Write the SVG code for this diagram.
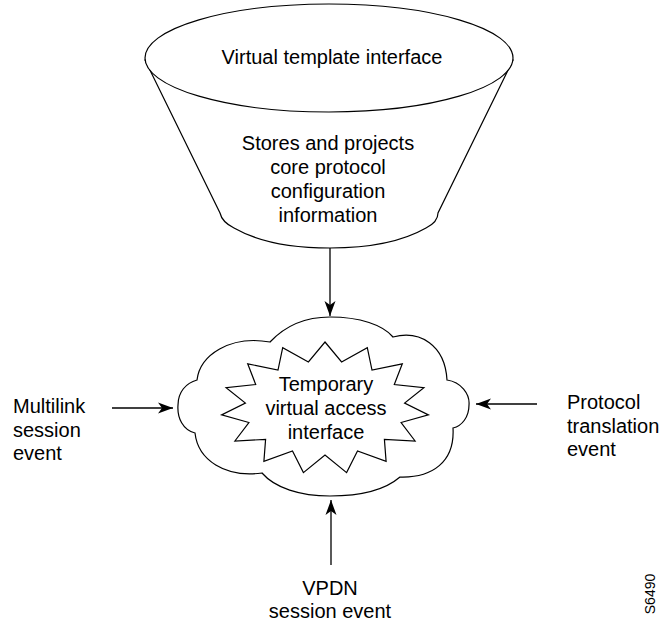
<svg xmlns="http://www.w3.org/2000/svg" width="662" height="621" viewBox="0 0 662 621">
<style>
.shape{fill:#fff;stroke:#000;stroke-width:1.2}
.conn{stroke:#000;stroke-width:1.3;fill:none}
text{font-family:"Liberation Sans",Arial,sans-serif;font-size:20px;fill:#000}
.c{text-anchor:middle}
</style>
<defs>
<marker id="ah" markerUnits="userSpaceOnUse" markerWidth="18" markerHeight="14" viewBox="-16 -7 18 14" refX="0" refY="0" orient="auto">
<path d="M0,0 L-15,-5.5 L-11,0 L-15,5.5 Z" fill="#000"/>
</marker>
</defs>
<rect width="662" height="621" fill="#fff"/>
<g id="template">
<path class="shape" d="M145,60 L220,213 Q222,222 234,228 C262,244 300,248 330,248 C360,248 398,244 426,228 Q438,222 438,213 L513,60 Z"/>
<ellipse class="shape" cx="329" cy="58" rx="184" ry="54"/>
<text class="c" x="332" y="64">Virtual template interface</text>
<text class="c" x="328" y="150">Stores and projects</text>
<text class="c" x="328" y="174">core protocol</text>
<text class="c" x="328" y="198">configuration</text>
<text class="c" x="328" y="222">information</text>
</g>
<g id="access">
<path class="shape" d="M330,317 C360,317 383,325 393,337 C420,330 445,345 447,380 C461,382 470,394 469,405 C469,417 462,426 453,428 C455,462 432,478 400,477 C385,490 360,496 330,496 C300,496 275,488 262,473 C225,478 198,460 195,433 C183,430 177,418 178,405 C178,392 186,383 197,380 C200,355 230,335 270,342 C285,326 305,317 330,317 Z"/>
<polygon class="shape" points="325,342 341.6,362 367.3,347.7 372,370 402.3,363.8 394.3,384.5 423.9,387.6 404.6,403.1 428.4,414.9 401.1,422.5 415.1,441 384.4,439.4 386.1,461.4 357.5,450.9 346.6,472.6 325,455 303.4,472.6 292.5,450.9 263.9,461.4 265.6,439.4 234.9,441 248.9,422.5 221.6,414.9 245.4,403.1 226.1,387.6 255.7,384.5 247.7,363.8 278,370 282.7,347.7 308.4,362"/>
<text class="c" x="326" y="391">Temporary</text>
<text class="c" x="326" y="415">virtual access</text>
<text class="c" x="326" y="439">interface</text>
</g>
<g id="multilink">
<text x="13" y="413">Multilink</text>
<text x="13" y="437">session</text>
<text x="13" y="460">event</text>
</g>
<g id="protocol">
<text x="567" y="409">Protocol</text>
<text x="567" y="433">translation</text>
<text x="567" y="456">event</text>
</g>
<g id="vpdn">
<text class="c" x="330" y="595">VPDN</text>
<text class="c" x="330" y="618">session event</text>
</g>
<g id="connectors">
<line class="conn" x1="330" y1="248" x2="330" y2="316" marker-end="url(#ah)"/>
<line class="conn" x1="112" y1="408" x2="173" y2="408" marker-end="url(#ah)"/>
<line class="conn" x1="537" y1="404" x2="476" y2="404" marker-end="url(#ah)"/>
<line class="conn" x1="331" y1="565" x2="331" y2="500" marker-end="url(#ah)"/>
</g>
<text transform="translate(655,594) rotate(-90)" class="c" style="font-size:14px">S6490</text>
</svg>
